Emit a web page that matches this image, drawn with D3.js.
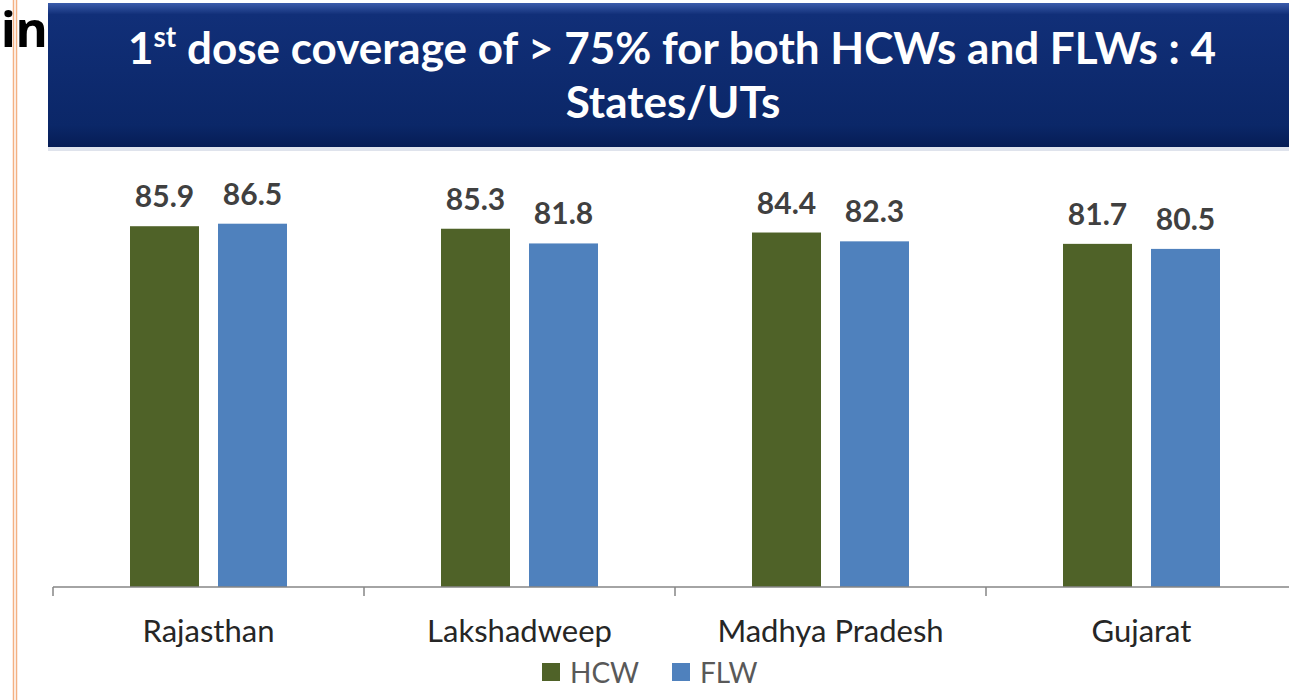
<!DOCTYPE html>
<html>
<head>
  <title>1st dose coverage</title>
  <script src="https://cdn.jsdelivr.net/npm/d3@7/dist/d3.min.js"></script>
  <style>
    body { margin: 0; background: #fff; }
    svg { display: block; font-family: Lato, "Open Sans", sans-serif; }
    .value { font-size: 30px; font-weight: bold; fill: #404040; text-anchor: middle; }
    .cat { font-size: 31px; fill: #262626; text-anchor: middle; }
    .legend text { font-size: 28px; fill: #595959; }
    .title { font-size: 44px; font-weight: bold; fill: #fff; text-anchor: middle; }
  </style>
</head>
<body>
<div id="chart"></div>
<script>
  // data
  const states = ['Rajasthan', 'Lakshadweep', 'Madhya Pradesh', 'Gujarat'];
  const seriesNames = ['HCW', 'FLW'];
  const hcw = [85.9, 85.3, 84.4, 81.7];
  const flw = [86.5, 81.8, 82.3, 80.5];
  const colors = ['#4f6228', '#4f81bd'];

  const width = 1289, height = 700;
  const svg = d3.select('#chart').append('svg')
    .attr('width', width)
    .attr('height', height);

  // slide decoration: orange double rule on the left
  svg.append('line').attr('x1', 13.5).attr('x2', 13.5).attr('y1', 0).attr('y2', height)
    .attr('stroke', '#f4b183').attr('stroke-width', 1.5);
  svg.append('line').attr('x1', 16.5).attr('x2', 16.5).attr('y1', 0).attr('y2', height)
    .attr('stroke', '#f4b183').attr('stroke-width', 1.5);

  // title banner
  const defs = svg.append('defs');
  const grad = defs.append('linearGradient').attr('id', 'banner').attr('x1', 0).attr('x2', 0).attr('y1', 0).attr('y2', 1);
  grad.append('stop').attr('offset', '0%').attr('stop-color', '#3b5cab');
  grad.append('stop').attr('offset', '8%').attr('stop-color', '#112f78');
  grad.append('stop').attr('offset', '85%').attr('stop-color', '#0b2768');
  grad.append('stop').attr('offset', '100%').attr('stop-color', '#061c55');

  svg.append('rect')
    .attr('x', 48).attr('y', 3)
    .attr('width', width - 48 + 10).attr('height', 144)
    .attr('fill', 'url(#banner)');
  svg.append('rect')
    .attr('x', 48).attr('y', 147)
    .attr('width', width - 48).attr('height', 4)
    .attr('fill', '#dfe3ec');

  // leftover word from the slide heading
  svg.append('text')
    .attr('x', 1).attr('y', 47)
    .attr('font-family', '"Noto Sans", sans-serif')
    .attr('font-size', 49).attr('font-weight', 'bold')
    .attr('fill', '#000')
    .text('in');

  const title1 = svg.append('text').attr('class', 'title').attr('x', 672).attr('y', 64);
  title1.append('tspan').text('1');
  title1.append('tspan').attr('dy', -17).attr('font-size', 28).text('st');
  title1.append('tspan').attr('dy', 17).text(' dose coverage of > 75% for both HCWs and FLWs : 4');
  svg.append('text').attr('class', 'title').attr('x', 673).attr('y', 118).text('States/UTs');

  // scales
  const x = d3.scaleBand()
    .domain(states)
    .range([53, 53 + 311 * 4]);

  const xInner = d3.scaleBand()
    .domain(seriesNames)
    .range([77, 234])
    .paddingInner(0.216);

  const y = d3.scaleLinear()
    .domain([0, 100])
    .range([587, 167]);

  const rows = states.map((s, i) => ({ state: s, values: [hcw[i], flw[i]] }));

  const groups = svg.selectAll('g.group')
    .data(rows)
    .join('g')
    .attr('class', 'group')
    .attr('transform', d => `translate(${x(d.state)},0)`);

  groups.selectAll('rect')
    .data(d => d.values.map((v, j) => ({ key: seriesNames[j], value: v, j })))
    .join('rect')
    .attr('x', d => xInner(d.key))
    .attr('y', d => y(d.value))
    .attr('width', xInner.bandwidth())
    .attr('height', d => y(0) - y(d.value))
    .attr('fill', d => colors[d.j]);

  groups.selectAll('text.value')
    .data(d => d.values.map((v, j) => ({ key: seriesNames[j], value: v })))
    .join('text')
    .attr('class', 'value')
    .attr('x', d => xInner(d.key) + xInner.bandwidth() / 2)
    .attr('y', d => y(d.value) - 19)
    .text(d => d.value.toFixed(1));

  // category axis with ticks at band boundaries
  const axis = svg.append('g').attr('class', 'axis');
  axis.append('line')
    .attr('x1', x.range()[0]).attr('x2', width)
    .attr('y1', y(0)).attr('y2', y(0))
    .attr('stroke', '#868686').attr('stroke-width', 1.5);
  axis.selectAll('line.tick')
    .data(states)
    .join('line')
    .attr('class', 'tick')
    .attr('x1', d => x(d)).attr('x2', d => x(d))
    .attr('y1', y(0)).attr('y2', y(0) + 9)
    .attr('stroke', '#868686').attr('stroke-width', 1.5);
  axis.selectAll('text.cat')
    .data(states)
    .join('text')
    .attr('class', 'cat')
    .attr('x', d => x(d) + x.bandwidth() / 2)
    .attr('y', 642)
    .text(d => d);

  // legend
  const legendX = [542, 672];
  const legend = svg.append('g').attr('class', 'legend');
  const items = legend.selectAll('g')
    .data(seriesNames)
    .join('g')
    .attr('transform', (d, i) => `translate(${legendX[i]},663)`);
  items.append('rect')
    .attr('width', 18).attr('height', 18)
    .attr('fill', (d, i) => colors[i]);
  items.append('text')
    .attr('x', 28).attr('y', 20)
    .text(d => d);
</script>
</body>
</html>
